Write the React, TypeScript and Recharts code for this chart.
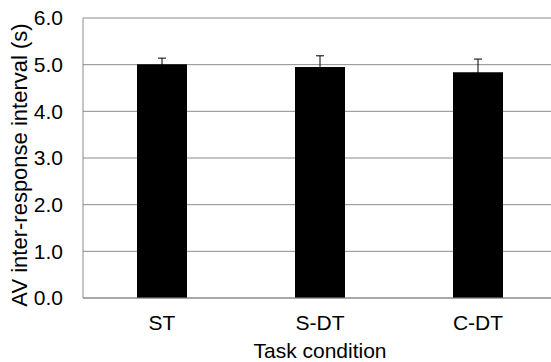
import { BarChart, Bar, XAxis, YAxis, CartesianGrid, ErrorBar } from 'recharts';

// task conditions and mean AV inter-response interval (s)
const conditions = ['ST', 'S-DT', 'C-DT'];
const means = [5.01, 4.95, 4.84];
const errors = [0.13, 0.24, 0.28];
const yTicks = [0, 1, 2, 3, 4, 5, 6];

const data = conditions.map((c, i) => ({ name: c, value: means[i], err: errors[i] }));

const font = 'Arial, "Liberation Sans", sans-serif';

// rotated y-axis title, placed by hand to sit where the original one is
function YTitle() {
  return (
    <text
      x={27}
      y={165}
      transform='rotate(-90 27 165)'
      textAnchor='middle'
      fill='#000'
      fontSize={22}
      fontFamily={font}
    >
      AV inter-response interval (s)
    </text>
  );
}

export default function App() {
  return (
    <div style={{ position: 'absolute', left: 0, top: 0, width: 551, height: 362, overflow: 'hidden', background: '#fff', fontFamily: font }}>
      <BarChart
        width={560}
        height={362}
        data={data}
        margin={{ top: 18, right: 3, left: 0, bottom: 0 }}
        barSize={50}
      >
        <CartesianGrid vertical={false} stroke='#8c8c8c' strokeWidth={1} />
        <XAxis
          dataKey='name'
          height={64}
          tickLine={false}
          axisLine={{ stroke: '#8c8c8c' }}
          tickMargin={11}
          tick={{ fill: '#000', fontSize: 21, fontFamily: font }}
          label={{ value: 'Task condition', position: 'insideBottom', offset: 4, fill: '#000', fontSize: 21, fontFamily: font }}
        />
        <YAxis
          width={83}
          domain={[0, 6]}
          ticks={yTicks}
          tickFormatter={(v: number) => v.toFixed(1)}
          tickLine={false}
          axisLine={{ stroke: '#8c8c8c' }}
          tickMargin={14}
          tick={{ fill: '#000', fontSize: 21, fontFamily: font }}
          label={{ content: () => <YTitle /> }}
        />
        <Bar dataKey='value' fill='#000' isAnimationActive={false}>
          <ErrorBar dataKey='err' width={4} stroke='#000' strokeWidth={1} isAnimationActive={false} />
        </Bar>
      </BarChart>
    </div>
  );
}
